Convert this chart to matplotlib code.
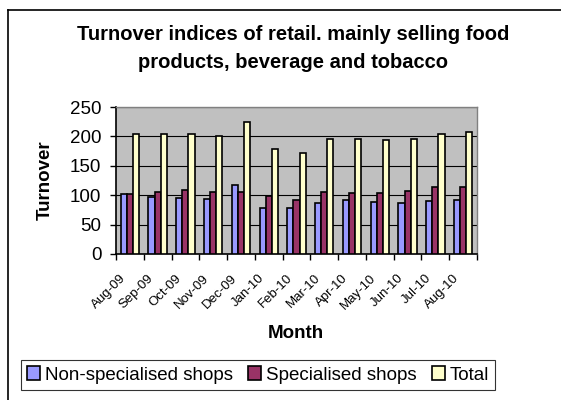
import matplotlib
matplotlib.use("Agg")
import matplotlib.pyplot as plt
import numpy as np
from matplotlib.lines import Line2D
from matplotlib.patches import Patch
from matplotlib.transforms import ScaledTranslation

months = ["Aug-09", "Sep-09", "Oct-09", "Nov-09", "Dec-09", "Jan-10", "Feb-10",
          "Mar-10", "Apr-10", "May-10", "Jun-10", "Jul-10", "Aug-10"]
non_specialised = [101.7, 97, 95.5, 93.2, 117, 79, 79, 86.5, 91.5, 88.7, 86, 89.8, 91.5]
specialised = [102.8, 105.6, 108.5, 105.6, 105.6, 98.9, 91.5, 106.2, 104, 104, 107, 114, 114]
total = [204.6, 203.4, 204.6, 200.6, 224, 178, 171.5, 195, 196, 194.4, 195, 203.4, 207]
series_names = ["Non-specialised shops", "Specialised shops", "Total"]
yticks = [0, 50, 100, 150, 200, 250]
title_lines = ["Turnover indices of retail. mainly selling food",
               "products, beverage and tobacco"]

plt.rcParams['font.family'] = ['Liberation Sans', 'DejaVu Sans']

W, H = 561, 400
fig = plt.figure(figsize=(W / 100, H / 100), dpi=100)
fig.patch.set_facecolor('white')

left, right, top, bottom = 116, 477, 107, 254
ax = fig.add_axes([left / W, 1 - bottom / H, (right - left) / W, (bottom - top) / H])
ax.set_facecolor('#C0C0C0')

colors = ['#9999FF', '#993366', '#FFFFCC']
x = np.arange(len(months))
bw = 0.22
for i, (vals, c) in enumerate(zip([non_specialised, specialised, total], colors)):
    ax.bar(x + (i - 1) * bw, vals, width=bw, color=c, edgecolor='black',
           linewidth=1.2, zorder=3, label=series_names[i])

ax.set_xlim(-0.5, len(months) - 0.5)
ax.set_ylim(0, 250)
ax.set_yticks(yticks)
ax.set_yticklabels([str(v) for v in yticks], fontsize=13.5)
ax.yaxis.grid(True, color='black', linewidth=0.8, zorder=1)
ax.set_axisbelow(True)

# x ticks at category boundaries, labels at centers
ax.set_xticks(np.arange(-0.5, len(months), 1.0))
ax.set_xticklabels([])
ax.set_xticks(x, minor=True)
ax.set_xticklabels(months, minor=True, rotation=45, ha='right', va='center',
                   rotation_mode='anchor', fontsize=9.5)
ax.tick_params(axis='x', which='minor', length=0, pad=16)
ax.tick_params(axis='x', which='major', length=4.5, width=1, direction='out')
ax.tick_params(axis='y', length=4.5, width=1, direction='out', pad=6)
offset = ScaledTranslation(-6 / 100, 0, fig.dpi_scale_trans)
for lab in ax.get_xticklabels(minor=True):
    lab.set_transform(lab.get_transform() + offset)

for s in ['top', 'right']:
    ax.spines[s].set_color('#808080')
    ax.spines[s].set_linewidth(1.0)
for s in ['left', 'bottom']:
    ax.spines[s].set_color('black')
    ax.spines[s].set_linewidth(1.2)

fig.text(293 / W, 1 - 34 / H, title_lines[0], ha='center', va='center',
         fontsize=14.5, fontweight='bold')
fig.text(293 / W, 1 - 63 / H, title_lines[1], ha='center', va='center',
         fontsize=14.5, fontweight='bold')
fig.text(45 / W, 1 - 180 / H, "Turnover", rotation=90, ha='center', va='center',
         fontsize=13.5, fontweight='bold')
fig.text(296 / W, 1 - 333 / H, "Month", ha='center', va='center',
         fontsize=13.5, fontweight='bold')

handles = [Patch(facecolor=c, edgecolor='black', linewidth=1.2) for c in colors]
leg = fig.legend(handles, series_names, loc='center', ncol=3,
                 bbox_to_anchor=(258 / W, 1 - 375 / H), fontsize=13.5,
                 frameon=True, fancybox=False, handlelength=0.7, handleheight=0.7,
                 handletextpad=0.25, columnspacing=0.8, borderpad=0.35,
                 borderaxespad=0)
leg.get_frame().set_edgecolor('black')
leg.get_frame().set_linewidth(0.8)

# outer chart border
fig.add_artist(Line2D([8 / W, 8 / W], [0, 1 - 10 / H], transform=fig.transFigure,
                      color='black', linewidth=1.2))
fig.add_artist(Line2D([8 / W, 1], [1 - 10 / H, 1 - 10 / H], transform=fig.transFigure,
                      color='black', linewidth=1.2))

fig.savefig('out.png', dpi=100)
